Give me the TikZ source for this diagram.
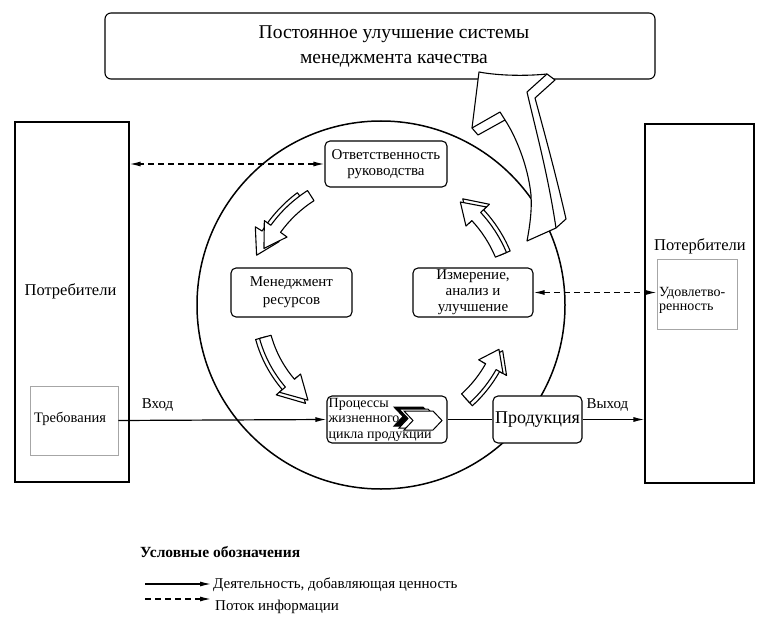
\documentclass[tikz,border=0pt]{standalone}
\usepackage{fontspec}
\setmainfont{Liberation Serif}
\usetikzlibrary{arrows.meta}
\tikzset{
  box/.style={draw, rounded corners=5pt, fill=white, line width=1.1pt, inner sep=0pt, align=center},
  bigrect/.style={draw, fill=white, line width=1.1pt, inner sep=0pt},
  thinrect/.style={draw=gray!70, line width=0.6pt, inner sep=0pt},
  lbl/.style={inner sep=0pt, anchor=base},
  flow/.style={line width=1.2pt, -{Latex[length=11pt,width=5pt]}},
  plainflow/.style={line width=1.2pt},
  info/.style={line width=1.3pt, dash pattern=on 6pt off 4pt, {Latex[length=11pt,width=5pt]}-{Latex[length=11pt,width=5pt]}},
  infoleg/.style={line width=1.3pt, dash pattern=on 6pt off 4pt, -{Latex[length=11pt,width=5pt]}},
  blockarrow/.style={draw, fill=white, line width=1.1pt, line join=round},
  chev/.style={draw, fill=white, line width=1pt, line join=miter}
}
\newcommand{\cycarr}[3]{%
  \pgfmathsetmacro\hb{#2-(#2-#1)*0.32}%
  \draw[blockarrow] ([shift={(#1:#3+6)}]O) arc[start angle=#1, end angle=\hb, radius=#3+6]
    -- ([shift={(\hb:#3+14)}]O) -- ([shift={(#2:#3)}]O) -- ([shift={(\hb:#3-14)}]O)
    -- ([shift={(\hb:#3-6)}]O) arc[start angle=\hb, end angle=#1, radius=#3-6] -- cycle;}
\newcommand{\chevshape}[3]{%
  \draw[chev, #3] (#1,#2) -- ++(29,0) -- ++(9,-9.5) -- ++(-9,-9.5) -- ++(-29,0) -- ++(9,9.5) -- cycle;}
\begin{document}
\begin{tikzpicture}[x=1pt,y=1pt]
\useasboundingbox (0,0) rectangle (768,625);
\coordinate (O) at (381,320);

% top box
\node[box, rounded corners=6pt, minimum width=550pt, minimum height=66pt] (top) at (380,579) {};
\node[inner sep=0pt, align=center, font=\fontsize{19.5}{25}\selectfont] (toptxt) at (394,578) {Постоянное улучшение системы\\менеджмента качества};

% circle
\draw[line width=1.5pt] (O) circle[radius=184];

% side customers
\node[bigrect, minimum width=114pt, minimum height=360pt] (lcons) at (72,323) {};
\node[thinrect, minimum width=88pt, minimum height=69pt] (req) at (74,204.5) {};
\node[lbl, font=\fontsize{16.5}{18}\selectfont] (lconstxt) at (70.5,330) {Потребители};
\node[lbl, font=\fontsize{14.5}{16}\selectfont] (reqtxt) at (70,203) {Требования};

\node[bigrect, minimum width=109pt, minimum height=359pt] (rcons) at (699.5,321.5) {};
\node[thinrect, minimum width=80pt, minimum height=70pt] (sat) at (697,331) {};
\node[lbl, font=\fontsize{16.5}{18}\selectfont] (rconstxt) at (700,375) {Потербители};
\node[inner sep=0pt, anchor=base west, align=left, font=\fontsize{14}{14}\selectfont] (sattxt) at (659,315) {Удовлетво-\\ренность};

% inner boxes
\node[box, minimum width=122pt, minimum height=46pt, font=\fontsize{15}{16}\selectfont] (resp) at (386,461) {Ответственность\\руководства};
\node[box, minimum width=121pt, minimum height=49pt, font=\fontsize{15}{18}\selectfont] (res) at (291.5,332.5) {Менеджмент\\ресурсов};
\node[box, minimum width=120pt, minimum height=49pt, font=\fontsize{15}{16}\selectfont] (meas) at (473,332.5) {Измерение,\\анализ и\\улучшение};
\node[box, minimum width=120pt, minimum height=47pt] (proc) at (387,205.5) {};
\node[inner sep=0pt, anchor=base west, align=left, font=\fontsize{14}{15.5}\selectfont] (proctxt) at (328.5,187) {Процессы\\жизненного\\цикла продукции};
\node[box, minimum width=89pt, minimum height=47pt, font=\fontsize{18}{20}\selectfont] (prod) at (537.5,205.5) {Продукция};

% chevrons
\chevshape{394}{218}{fill=black}
\chevshape{399}{216}{}
\chevshape{404}{214}{}

% cycle arrows
\cycarr{126.7}{158.2}{134}
\cycarr{122.7}{154.2}{130}
\cycarr{195.4}{232.5}{124}
\cycarr{195.4}{232.5}{120}
\cycarr{312.2}{339.4}{130}
\cycarr{312.2}{339.4}{126}
\cycarr{22.7}{52.4}{134}
\cycarr{22.7}{52.4}{130}

% big arrow
\draw[blockarrow] (479,553) .. controls (500,549) and (528,549) .. (547,551) -- (555,545) -- (535,527)
  .. controls (545,490) and (556,450) .. (566,406) -- (556,397) -- (527,384)
  .. controls (530,400) and (532,415) .. (531,430) .. controls (528,460) and (515,490) .. (505,505)
  -- (478,490) -- (472,497) -- cycle;
\draw[line width=1.1pt, line join=round] (547,551) -- (527,533) .. controls (537,490) and (548,450) .. (556,397);
\draw[line width=1.1pt, line join=round] (472,497) -- (500,513) -- (505,505);

% flows
\draw[info] (resp.west) -- (resp.west -| lcons.east);
\draw[info] (meas.east) -- (meas.east -| sat.west);
\draw[flow] (req.east) -- (proc.west);
\draw[plainflow] (proc.east) -- (prod.west);
\draw[flow] (prod.east) -- (prod.east -| rcons.west);
\node[lbl, font=\fontsize{15}{16}\selectfont] (intxt) at (157.5,217) {Вход};
\node[lbl, font=\fontsize{15}{16}\selectfont] (outtxt) at (607.5,217) {Выход};

% legend
\node[inner sep=0pt, anchor=base west, font=\fontsize{15.5}{17}\selectfont\bfseries] (legtitle) at (140,68) {Условные обозначения};
\coordinate (l1a) at (145,41); \coordinate (l1b) at (211,41);
\coordinate (l2a) at (145,26); \coordinate (l2b) at (211,26);
\draw[flow] (l1a) -- (l1b);
\draw[infoleg] (l2a) -- (l2b);
\node[inner sep=0pt, anchor=base west, font=\fontsize{15}{16}\selectfont] (leg1) at (213,37) {Деятельность, добавляющая ценность};
\node[inner sep=0pt, anchor=base west, font=\fontsize{15}{16}\selectfont] (leg2) at (215,15) {Поток информации};
\end{tikzpicture}
\end{document}
